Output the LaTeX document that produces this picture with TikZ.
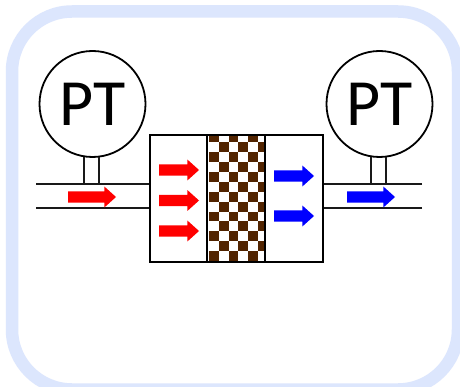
\documentclass[tikz,border=0pt]{standalone}
\usepackage{fontspec}
\setmainfont{Carlito}
\usetikzlibrary{shapes.arrows}
\definecolor{framecol}{HTML}{DCE6FD}
\definecolor{brownc}{HTML}{522400}
\tikzset{
  gauge/.style={circle,draw=black,fill=white,line width=1.8pt,minimum size=106pt,inner sep=0pt,outer sep=0pt,font=\fontsize{66}{66}\selectfont},
  vessel/.style={rectangle,draw=black,line width=1.8pt,minimum width=#1,minimum height=127pt,inner sep=0pt,outer sep=0pt},
  pipeline/.style={draw=black!90,line width=1.6pt},
  flow/.style={single arrow,fill=#1,draw=none,anchor=tail,inner xsep=0pt,inner ysep=5.5pt,outer sep=0pt,minimum width=20.5pt,single arrow head extend=4.75pt,single arrow head indent=0pt,single arrow tip angle=84},
}
\begin{document}
\begin{tikzpicture}[x=1pt,y=-1pt]
\clip (0,0) rectangle (460,387);
\useasboundingbox (0,0) rectangle (460,387);
\fill[white] (0,0) rectangle (460,387);
\draw[framecol,line width=12.5pt,rounded corners=60pt] (12,11.5) rectangle (458,389.5);

% pipes and stems
\node[vessel=173pt] (chamber) at (236.5,198.5) {};
\coordinate (pipeLa) at (36,184);
\coordinate (pipeLb) at (36,208);
\coordinate (pipeRa) at (422,184);
\coordinate (pipeRb) at (422,208);
\draw[pipeline] (pipeLa) -- (pipeLa -| chamber.west);
\draw[pipeline] (pipeLb) -- (pipeLb -| chamber.west);
\draw[pipeline] (pipeRa) -- (pipeRa -| chamber.east);
\draw[pipeline] (pipeRb) -- (pipeRb -| chamber.east);
\coordinate (stemLa) at (84,184);
\coordinate (stemLb) at (99,184);
\coordinate (stemRa) at (371,184);
\coordinate (stemRb) at (386,184);

\node[gauge] (gaugeL) at (92.5,104) {\raisebox{-2pt}{PT}};
\node[gauge] (gaugeR) at (379.5,104) {\raisebox{-2pt}{PT}};
\draw[pipeline] (stemLa) -- (stemLa |- gaugeL.south);
\draw[pipeline] (stemLb) -- (stemLb |- gaugeL.south);
\draw[pipeline] (stemRa) -- (stemRa |- gaugeR.south);
\draw[pipeline] (stemRb) -- (stemRb |- gaugeR.south);

% porous filter
\begin{scope}
\clip (207,135) rectangle (265,262);
\foreach \r in {0,...,13}{
  \foreach \c in {0,...,5}{
    \pgfmathparse{int(mod(\r+\c,2))}
    \ifnum\pgfmathresult=0
      \fill[brownc] ({209+9.8*\c},{132.4+9.9*\r}) rectangle ++(9.8,9.9);
    \fi
  }
}
\end{scope}
\node[vessel=58pt] (filter) at (236,198.5) {};
\draw[line width=1.8pt] (chamber.north west) rectangle (chamber.south east);

% flow arrows
\node[flow=red,minimum height=48pt] (inPipe) at (68,197) {};
\node[flow=red,minimum height=40pt] (in1) at (159,170) {};
\node[flow=red,minimum height=40pt] (in2) at (159,200.5) {};
\node[flow=red,minimum height=40pt] (in3) at (159,231) {};
\node[flow=blue,minimum height=40pt] (out1) at (274,176) {};
\node[flow=blue,minimum height=40pt] (out2) at (274,216) {};
\node[flow=blue,minimum height=48pt] (outPipe) at (347,197) {};
\end{tikzpicture}
\end{document}
